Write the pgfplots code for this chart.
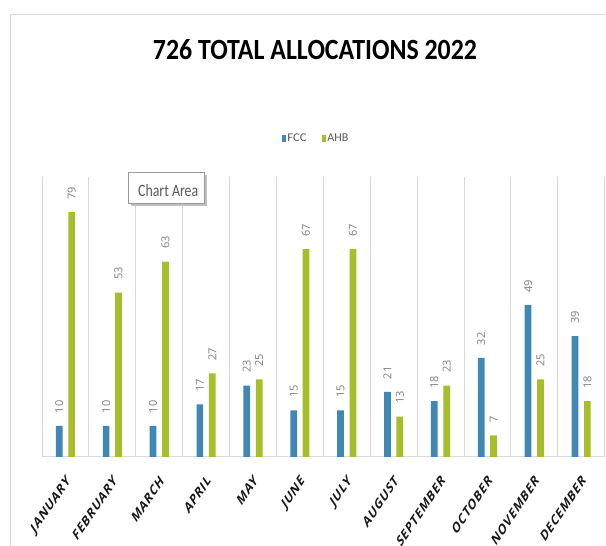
\documentclass[border=0pt]{standalone}
\usepackage{fontspec}
\usepackage{pgfplots}
\pgfplotsset{compat=1.18}
\setmainfont{Open Sans}
\newfontfamily\carlito{Carlito}
\newfontfamily\ticksfont[LetterSpace=6]{Open Sans}
\definecolor{fcc}{HTML}{3F88B5}
\definecolor{ahb}{HTML}{A8BD2A}
\definecolor{gridc}{HTML}{D9D9D9}
\definecolor{lblgray}{HTML}{7F7F7F}
\definecolor{txtgray}{HTML}{595959}
\begin{document}
\begin{tikzpicture}
\useasboundingbox (0pt,0pt) rectangle (606pt,546pt);
\clip (0pt,0pt) rectangle (606pt,546pt);
\fill[white] (0pt,0pt) rectangle (606pt,546pt);
\draw[gridc, line width=1pt] (10pt,-5pt) -- (10pt,531pt) -- (620pt,531pt);
\node[anchor=base, inner sep=0pt] at (315pt,486pt) {\resizebox{324pt}{20pt}{\carlito\bfseries 726 TOTAL ALLOCATIONS 2022}};
\begin{axis}[
  at={(42pt,89pt)}, anchor=south west, scale only axis,
  width=562.6pt, height=280pt,
  xmin=-0.5, xmax=11.5, ymin=0, ymax=90.3,
  axis x line*=bottom, axis y line=none,
  x axis line style={gridc, line width=1pt, -},
  xtick={0,...,11},
  xticklabels={JANUARY,FEBRUARY,MARCH,APRIL,MAY,JUNE,JULY,AUGUST,SEPTEMBER,OCTOBER,NOVEMBER,DECEMBER},
  major tick length=0pt,
  minor xtick={-0.5,0.5,...,11.5},
  minor tick length=0pt,
  xminorgrids, minor grid style={gridc, line width=0.8pt},
  xticklabel style={font=\ticksfont\bfseries\fontsize{15}{15}\selectfont, text=black!90, yshift=-17pt, xshift=0pt, xscale=0.68, rotate=45, anchor=north east, inner sep=0pt},
  ybar=5.7pt, bar width=6.7pt,
  clip=false,
  /pgf/number format/assume math mode=true,
  nodes near coords,
  nodes near coords style={font=\fontsize{11}{11}\selectfont, text=lblgray, rotate=90, anchor=west, inner xsep=12.5pt, inner ysep=0pt},
  legend style={at={(0.487,1.1375)}, anchor=center, draw=none, fill=none, legend columns=2, text=txtgray, inner sep=0pt, nodes={inner xsep=1.5pt, inner ysep=0pt}, /tikz/every even column/.append style={column sep=14pt}},
  legend cell align=left,
]
\addplot[fill=fcc, draw=none, legend image code/.code={\fill[fcc] (0pt,-3.5pt) rectangle (4pt,3.5pt);}] coordinates {(0,10) (1,10) (2,10) (3,17) (4,23) (5,15) (6,15) (7,21) (8,18) (9,32) (10,49) (11,39)};
\addplot[fill=ahb, draw=none, legend image code/.code={\fill[ahb] (0pt,-3.5pt) rectangle (4pt,3.5pt);}] coordinates {(0,79) (1,53) (2,63) (3,27) (4,25) (5,67) (6,67) (7,13) (8,23) (9,7) (10,25) (11,18)};
\legend{\resizebox{19pt}{7.7pt}{\carlito FCC},\resizebox{21pt}{7.7pt}{\carlito AHB}}
\end{axis}
\fill[black!25] (131pt,340pt) rectangle (207pt,371pt);
\filldraw[fill=white, draw=black!40, line width=0.8pt] (128pt,343pt) rectangle (204pt,374pt);
\node[anchor=base west, inner sep=0pt, text=txtgray] at (138pt,349pt) {\resizebox{60pt}{12pt}{\carlito Chart Area}};
\end{tikzpicture}
\end{document}
